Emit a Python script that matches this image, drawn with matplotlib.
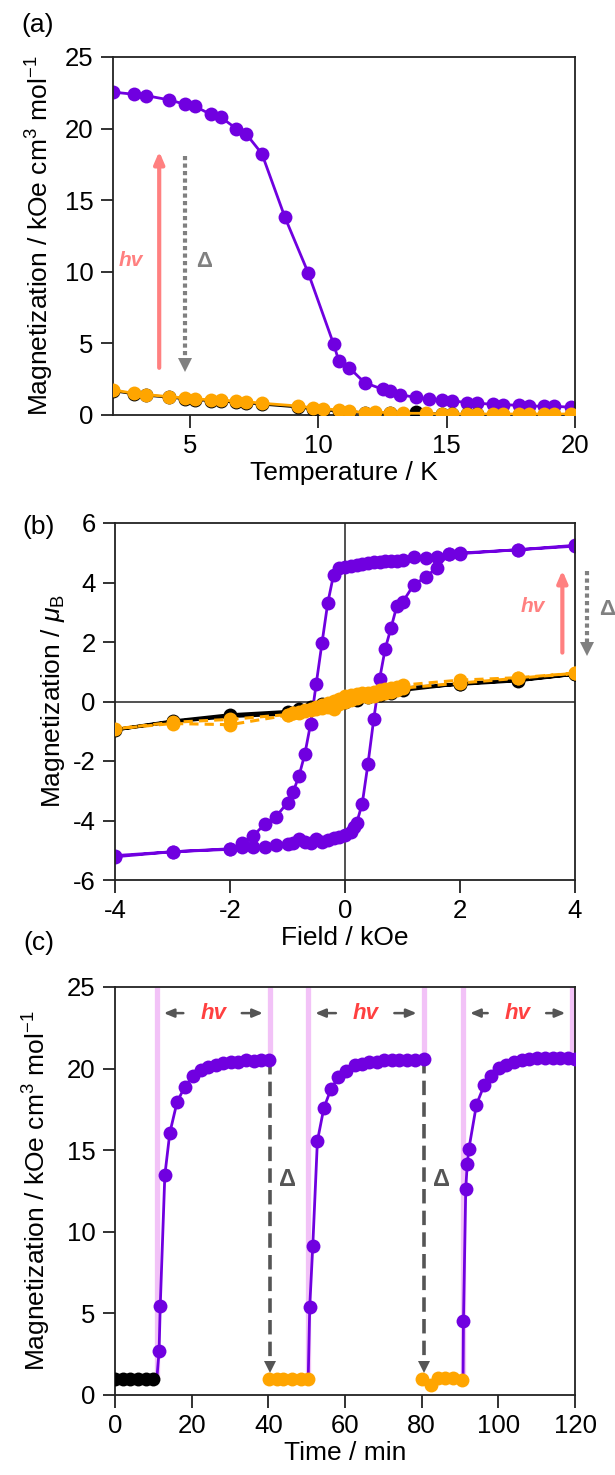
import matplotlib
matplotlib.use("Agg")
import matplotlib.pyplot as plt

plt.rcParams["font.family"] = ["Liberation Sans", "DejaVu Sans"]
plt.rcParams["mathtext.fontset"] = "custom"
plt.rcParams["mathtext.rm"] = "Liberation Sans"
plt.rcParams["mathtext.it"] = "Liberation Sans:italic"
plt.rcParams["mathtext.bf"] = "Liberation Sans:bold"
plt.rcParams["axes.unicode_minus"] = False

PURPLE = "#7000e0"
ORANGE = "#ffa500"
SALMON = "#ff8080"
GRAY = "#808080"
DARK = "#555555"
PINK = "#f2c2f7"

# ---- (a) M vs T ----
T_on = [2.0, 2.8, 3.3, 4.2, 4.8, 5.2, 5.8, 6.2, 6.8, 7.2, 7.8, 8.7, 9.6, 10.6, 10.8,
        11.2, 11.8, 12.5, 12.8, 13.2, 13.8, 14.3, 14.8, 15.2, 15.8, 16.2, 16.8,
        17.2, 17.8, 18.2, 18.8, 19.2, 19.85]
M_on = [22.55, 22.4, 22.3, 22.0, 21.7, 21.55, 21.0, 20.8, 20.0, 19.6, 18.25, 13.8,
        9.95, 4.93, 3.76, 3.31, 2.26, 1.80, 1.70, 1.40, 1.24, 1.10, 1.05, 1.0,
        0.86, 0.82, 0.75, 0.72, 0.68, 0.63, 0.61, 0.61, 0.54]
T_dark = [2.0, 2.8, 3.3, 4.2, 4.8, 5.2, 5.8, 6.2, 6.8, 7.2, 7.8, 9.2, 9.8, 10.2,
          10.8, 11.2, 11.8, 12.2, 12.8, 13.3, 13.8, 14.8, 15.2, 15.8, 16.2, 16.8,
          17.2, 17.8, 18.2, 18.8, 19.2, 19.85]
M_dark = [1.70, 1.48, 1.38, 1.24, 1.14, 1.08, 1.0, 0.98, 0.90, 0.86, 0.76, 0.56,
          0.42, 0.36, 0.28, 0.24, 0.14, 0.16, 0.12, 0.09, 0.20, 0.05, 0.05, 0.04,
          0.04, 0.03, 0.03, 0.02, 0.02, 0.02, 0.01, 0.01]
T_off = [2.0, 2.8, 3.3, 4.2, 4.8, 5.2, 5.8, 6.2, 6.8, 7.2, 7.8, 9.2, 9.8, 10.2, 10.8,
         11.2, 11.8, 12.2, 12.8, 13.3, 14.2, 14.8, 15.2, 15.8, 16.2, 16.8, 17.2,
         17.8, 18.2, 18.8, 19.2, 19.85]
M_off = [1.75, 1.52, 1.42, 1.28, 1.19, 1.14, 1.05, 1.05, 0.96, 0.93, 0.82, 0.63,
         0.49, 0.44, 0.35, 0.30, 0.16, 0.21, 0.16, 0.12, 0.12, 0.07, 0.07, 0.07,
         0.07, 0.07, 0.07, 0.07, 0.07, 0.07, 0.07, 0.07]

# ---- (b) M vs H loops ----
H_desc = [4, 3, 2, 1.8, 1.6, 1.4, 1.2, 1.0, 0.9, 0.8, 0.7, 0.6, 0.5, 0.4, 0.3, 0.2,
          0.1, 0.0, -0.1, -0.2, -0.3, -0.4, -0.5, -0.6, -0.7, -0.8, -0.9, -1.0,
          -1.2, -1.4, -1.6, -1.8, -2, -3, -4]
M_desc = [5.22, 5.10, 4.97, 4.95, 4.86, 4.84, 4.86, 4.74, 4.73, 4.72, 4.71, 4.70,
          4.68, 4.66, 4.63, 4.60, 4.55, 4.52, 4.48, 4.25, 3.31, 1.97, 0.60, -0.77,
          -1.78, -2.50, -3.03, -3.40, -3.87, -4.13, -4.52, -4.77, -4.97, -5.05, -5.18]
H_asc = [-4, -3, -2, -1.8, -1.6, -1.4, -1.2, -1.0, -0.9, -0.8, -0.7, -0.6, -0.5,
         -0.4, -0.3, -0.2, -0.1, 0.0, 0.1, 0.15, 0.2, 0.3, 0.4, 0.5, 0.6, 0.7, 0.8,
         0.9, 1.0, 1.2, 1.4, 1.6, 1.8, 2, 3, 4]
M_asc = [-5.22, -5.05, -4.95, -4.90, -4.90, -4.88, -4.82, -4.80, -4.75, -4.62,
         -4.71, -4.77, -4.63, -4.71, -4.66, -4.58, -4.55, -4.49, -4.38, -4.21,
         -4.10, -3.43, -2.09, -0.59, 0.74, 1.78, 2.47, 3.20, 3.34, 3.93, 4.18,
         4.50, 4.95, 4.99, 5.10, 5.25]
H_dark = [4, 3, 2, 1.0, 0.8, 0.6, 0.4, 0.2, 0.0, -0.2, -0.4, -0.6, -0.8, -1.0, -2,
          -3, -4, -3, -2, -1.0, -0.8, -0.6, -0.4, -0.2, 0.0, 0.2, 0.4, 0.6, 0.8,
          1.0, 2, 3, 4]
M_dark_b = [0.92, 0.70, 0.58, 0.45, 0.38, 0.30, 0.22, 0.14, 0.06, -0.02, -0.10,
            -0.18, -0.26, -0.34, -0.45, -0.66, -0.95, -0.68, -0.50, -0.42, -0.34,
            -0.26, -0.18, -0.10, -0.02, 0.06, 0.14, 0.22, 0.30, 0.38, 0.60, 0.72,
            0.92]
H_off = [4, 3, 2, 1.0, 0.9, 0.8, 0.7, 0.6, 0.5, 0.4, 0.3, 0.2, 0.1, 0.0, -0.1,
         -0.2, -0.3, -0.4, -0.5, -0.6, -0.7, -0.8, -0.9, -1.0, -2, -3, -4, -3, -2,
         -1.0, -0.9, -0.8, -0.7, -0.6, -0.5, -0.4, -0.3, -0.2, -0.1, 0.0, 0.1,
         0.2, 0.3, 0.4, 0.5, 0.6, 0.7, 0.8, 0.9, 1.0, 2, 3, 4]
M_off_b = [0.95, 0.80, 0.72, 0.55, 0.50, 0.46, 0.41, 0.37, 0.33, 0.30, 0.28, 0.25,
           0.22, 0.18, 0.10, 0.02, -0.05, -0.12, -0.18, -0.24, -0.30, -0.35,
           -0.40, -0.46, -0.78, -0.74, -0.92, -0.70, -0.60, -0.44, -0.40, -0.37,
           -0.33, -0.30, -0.26, -0.22, -0.18, -0.25, -0.10, -0.02, 0.06, 0.12,
           0.18, 0.15, 0.20, 0.24, 0.28, 0.33, 0.38, 0.45, 0.62, 0.78, 0.95]

# ---- (c) M vs time, switching cycles ----
t_init = [0, 2, 4, 6, 8, 10]
M_init = [0.95, 0.95, 0.95, 0.95, 0.95, 0.95]
t_irr1 = [11.5, 11.8, 13.0, 14.3, 16.2, 18.2, 20.3, 22.4, 24.3, 26.3, 28.2, 30.3,
          32.2, 34.2, 36.2, 38.2, 40.3]
M_irr1 = [2.69, 5.45, 13.47, 16.06, 17.96, 18.88, 19.53, 19.90, 20.10, 20.24,
          20.33, 20.39, 20.41, 20.51, 20.49, 20.51, 20.51]
t_rel1 = [40.2, 42.2, 43.8, 46.2, 48.4, 50.4]
M_rel1 = [0.96, 0.95, 0.95, 0.95, 0.96, 0.95]
t_irr2 = [50.8, 51.6, 52.8, 54.5, 56.4, 58.3, 60.2, 62.5, 64.4, 66.2, 68.3, 70.2,
          72.3, 74.1, 76.2, 78.3, 80.6]
M_irr2 = [5.41, 9.16, 15.57, 17.60, 18.78, 19.49, 19.86, 20.20, 20.31, 20.39,
          20.41, 20.51, 20.51, 20.51, 20.51, 20.51, 20.59]
t_rel2 = [80.0, 82.5, 84.2, 86.2, 88.1, 90.5]
M_rel2 = [0.96, 0.61, 1.02, 1.06, 1.06, 0.90]
t_irr3 = [90.9, 91.5, 91.9, 92.3, 94.3, 96.3, 98.1, 100.2, 102.1, 104.2, 106.1,
          108.1, 110.2, 112.1, 114.2, 116.1, 118.2, 120.1]
M_irr3 = [4.53, 12.65, 14.18, 15.06, 17.80, 18.98, 19.57, 20.04, 20.24, 20.41,
          20.55, 20.57, 20.63, 20.63, 20.63, 20.63, 20.63, 20.59]
light_on = [10.9, 50.4, 90.8]
light_off = [40.4, 80.5, 119.3]

W, H = 615, 1475
fig = plt.figure(figsize=(W / 100, H / 100), dpi=100)


def px_axes(l, t, r, b):
    return fig.add_axes([l / W, 1 - b / H, (r - l) / W, (b - t) / H])


def style(ax):
    for s in ax.spines.values():
        s.set_linewidth(1.3)
        s.set_color("#222222")
    ax.tick_params(direction="out", length=9, width=1.3, labelsize=18.5, pad=5,
                   color="#222222")


mk = dict(marker="o", markersize=10, markeredgewidth=0)

# (a)
ax1 = px_axes(113, 57, 575, 415)
style(ax1)
ax1.plot(T_on, M_on, color=PURPLE, lw=2, zorder=2, **mk)
ax1.plot(T_dark, M_dark, color="black", lw=2, zorder=3, **mk)
ax1.plot(T_off, M_off, color=ORANGE, lw=2, zorder=4, **mk)
ax1.set_xlim(2, 20)
ax1.set_ylim(0, 25)
ax1.set_xticks([5, 10, 15, 20])
ax1.set_yticks([0, 5, 10, 15, 20, 25])
ax1.set_xlabel("Temperature / K", fontsize=19, labelpad=2)
ax1.set_ylabel("Magnetization / kOe cm$^{3}$ mol$^{-1}$", fontsize=19, labelpad=6)
ax1.annotate("", xy=(3.8, 18.6), xytext=(3.8, 3.1),
             arrowprops=dict(arrowstyle="-|>,head_length=0.7,head_width=0.3",
                             color=SALMON, lw=3))
ax1.plot([4.8, 4.8], [18.1, 4.0], color=GRAY, lw=3, ls=(0, (1, 0.8)))
ax1.plot([4.8], [3.5], marker="v", color=GRAY, markersize=10, markeredgewidth=0)
ax1.text(2.7, 10.8, "hv", color=SALMON, fontsize=15, fontweight="bold",
         style="italic", ha="center", va="center")
ax1.text(5.55, 10.7, "Δ", color=GRAY, fontsize=16, fontweight="bold",
         ha="center", va="center")

# (b)
ax2 = px_axes(115, 523, 575, 880)
style(ax2)
ax2.axhline(0, color="#222222", lw=1.1, zorder=1)
ax2.axvline(0, color="#222222", lw=1.1, zorder=1)
ax2.plot(H_desc + H_asc, M_desc + M_asc, color=PURPLE, lw=2, zorder=2, **mk)
ax2.plot(H_dark, M_dark_b, color="black", lw=2.4, zorder=3, **mk)
ax2.plot(H_off, M_off_b, color=ORANGE, lw=2.2, ls=(0, (3, 2)), zorder=4, **mk)
ax2.set_xlim(-4, 4)
ax2.set_ylim(-6, 6)
ax2.set_xticks([-4, -2, 0, 2, 4])
ax2.set_yticks([-6, -4, -2, 0, 2, 4, 6])
ax2.set_xlabel("Field / kOe", fontsize=19, labelpad=2)
ax2.set_ylabel("Magnetization / $\\mathit{\\mu}_{\\rm B}$", fontsize=19, labelpad=4)
ax2.annotate("", xy=(3.78, 4.5), xytext=(3.78, 1.55),
             arrowprops=dict(arrowstyle="-|>,head_length=0.7,head_width=0.3",
                             color=SALMON, lw=3), annotation_clip=False)
ax2.plot([4.2, 4.2], [4.4, 2.0], color=GRAY, lw=3, ls=(0, (1, 0.8)), clip_on=False)
ax2.plot([4.2], [1.78], marker="v", color=GRAY, markersize=10, markeredgewidth=0,
         clip_on=False)
ax2.text(3.26, 3.18, "hv", color=SALMON, fontsize=15, fontweight="bold",
         style="italic", ha="center", va="center")
ax2.text(4.56, 3.1, "Δ", color=GRAY, fontsize=16, fontweight="bold",
         ha="center", va="center", clip_on=False)

# (c)
ax3 = px_axes(115, 987, 575, 1395)
style(ax3)
baselines = [M_init[-1], M_rel1[-1], M_rel2[-1]]
plateaus = [M_irr1[-1], M_irr2[-1], M_irr3[-1]]
for x, y0 in zip(light_on, baselines):
    ax3.plot([x, x], [y0, 25], color=PINK, lw=3.8, zorder=1, solid_capstyle="butt")
for x, y1 in zip(light_off, plateaus):
    ax3.plot([x, x], [y1, 25], color=PINK, lw=3.8, zorder=1, solid_capstyle="butt")

ax3.plot(t_init, M_init, color="black", lw=2, zorder=3, **mk)
for x0, y0, tt, mm in zip(light_on, baselines, [t_irr1, t_irr2, t_irr3],
                          [M_irr1, M_irr2, M_irr3]):
    ax3.plot([x0] + tt, [y0] + mm, color=PURPLE, lw=2, zorder=2)
    ax3.plot(tt, mm, color=PURPLE, lw=0, zorder=3, **mk)
for tt, mm in [(t_rel1, M_rel1), (t_rel2, M_rel2)]:
    ax3.plot(tt, mm, color=ORANGE, lw=2, zorder=3, **mk)

# thermal relaxation arrows
for x, y1 in zip(light_off[:2], plateaus[:2]):
    ax3.plot([x, x], [y1, 2.2], color=DARK, lw=2.6, ls=(0, (4, 2)), zorder=2)
    ax3.plot([x], [1.7], marker="v", color=DARK, markersize=9, markeredgewidth=0)
    ax3.text(x + 4.7, 13.2, "Δ", color=DARK, fontsize=17, fontweight="bold",
             ha="center", va="center")

# irradiation spans
for x0, x1 in zip(light_on, light_off):
    xm = (x0 + x1) / 2
    ax3.text(xm, 23.4, "hv", color="#ff4040", fontsize=16, fontweight="bold",
             style="italic", ha="center", va="center")
    ax3.annotate("", xy=(x0 + 1.1, 23.4), xytext=(xm - 7.1, 23.4),
                 arrowprops=dict(arrowstyle="-|>,head_length=0.6,head_width=0.25",
                                 color=DARK, lw=1.8))
    ax3.annotate("", xy=(x1 - 1.1, 23.4), xytext=(xm + 6.7, 23.4),
                 arrowprops=dict(arrowstyle="-|>,head_length=0.6,head_width=0.25",
                                 color=DARK, lw=1.8))

ax3.set_xlim(0, 120)
ax3.set_ylim(0, 25)
ax3.set_xticks([0, 20, 40, 60, 80, 100, 120])
ax3.set_yticks([0, 5, 10, 15, 20, 25])
ax3.set_xlabel("Time / min", fontsize=19, labelpad=2)
ax3.set_ylabel("Magnetization / kOe cm$^{3}$ mol$^{-1}$", fontsize=19, labelpad=10)

for lab, x, y in [("(a)", 38, 25), ("(b)", 39, 527), ("(c)", 39, 943)]:
    fig.text(x / W, 1 - y / H, lab, fontsize=19, ha="center", va="center")

fig.savefig("out.png", dpi=100)
